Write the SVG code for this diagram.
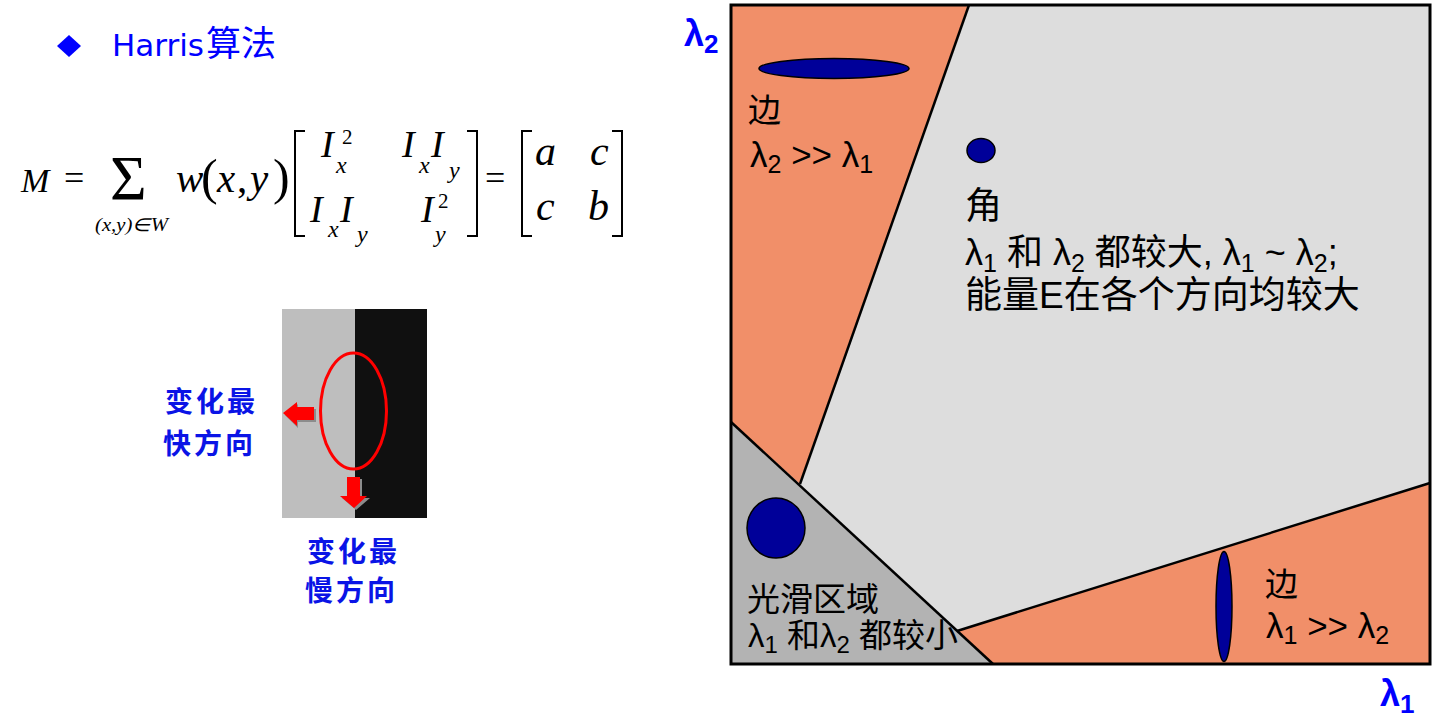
<svg xmlns="http://www.w3.org/2000/svg" width="1445" height="721" viewBox="0 0 1445 721">
<style>
.m{font-family:"Liberation Serif",serif;font-style:italic;fill:#000}
.mr{font-family:"Liberation Serif",serif;font-style:normal;fill:#000}
.lbl{font-family:"Liberation Sans","Noto Sans CJK SC",sans-serif;fill:#000}
.blue{font-family:"Noto Sans CJK SC",sans-serif;font-weight:bold;fill:#0a14e6;font-size:28px;letter-spacing:3px}
.axis{font-family:"Liberation Sans",sans-serif;font-weight:bold;fill:#0000ff}
.br{fill:none;stroke:#000;stroke-width:2}
.blob{fill:#000099;stroke:#000;stroke-width:1.5}
.edge{stroke:#000;stroke-width:2.5;fill:none}
.org{fill:#f18f69}
</style>

<g id="title">
  <polygon points="69,35 81,46 69,57 57,46" fill="#0000ff"/>
  <text x="112" y="56" font-family="DejaVu Sans, sans-serif" font-size="31" fill="#0000ff">Harris<tspan x="206" font-family="Noto Sans CJK SC, sans-serif" font-size="35">算法</tspan></text>
</g>

<g id="formula">
  <text class="m" x="21" y="192" font-size="34">M</text>
  <text class="mr" x="64" y="190" font-size="36">=</text>
  <text class="mr" x="110" y="200" font-size="63">Σ</text>
  <text class="m" x="95" y="231" font-size="18" textLength="73" lengthAdjust="spacingAndGlyphs">(x,y)∈W</text>
  <text class="m" x="176" y="192" font-size="41">w</text>
  <text class="mr" x="201" y="194" font-size="50">(</text>
  <text class="m" x="217" y="192" font-size="41">x</text>
  <text class="mr" x="237" y="192" font-size="41">,</text>
  <text class="m" x="250" y="192" font-size="41">y</text>
  <text class="mr" x="273" y="194" font-size="50">)</text>
  <polyline class="br" points="305,131 295,131 295,236 305,236"/>
  <polyline class="br" points="467,131 477,131 477,236 467,236"/>
  <text class="m" x="321" y="157" font-size="38">I</text>
  <text class="mr" x="342" y="144" font-size="21">2</text>
  <text class="m" x="336" y="173" font-size="24">x</text>
  <text class="m" x="402" y="157" font-size="38">I</text>
  <text class="m" x="419" y="173" font-size="24">x</text>
  <text class="m" x="431" y="157" font-size="38">I</text>
  <text class="m" x="449" y="178" font-size="24">y</text>
  <text class="m" x="310" y="222" font-size="38">I</text>
  <text class="m" x="328" y="237" font-size="24">x</text>
  <text class="m" x="340" y="222" font-size="38">I</text>
  <text class="m" x="357" y="242" font-size="24">y</text>
  <text class="m" x="421" y="222" font-size="38">I</text>
  <text class="mr" x="438" y="208" font-size="21">2</text>
  <text class="m" x="435" y="242" font-size="24">y</text>
  <text class="mr" x="485" y="190" font-size="36">=</text>
  <polyline class="br" points="532,131 522,131 522,236 532,236"/>
  <polyline class="br" points="612,131 622,131 622,236 612,236"/>
  <text class="m" x="535" y="165" font-size="42">a</text>
  <text class="m" x="590" y="165" font-size="42">c</text>
  <text class="m" x="536" y="220" font-size="42">c</text>
  <text class="m" x="588" y="220" font-size="42">b</text>
</g>

<g id="edge-image">
  <rect x="282" y="309" width="73" height="209" fill="#bebebe"/>
  <rect x="355" y="309" width="72" height="209" fill="#101010"/>
  <ellipse cx="353.5" cy="411" rx="33" ry="58" fill="none" stroke="#ff0000" stroke-width="3"/>
  <polygon points="285,415 298,404 298,409 316,409 316,422 298,422 298,428" fill="#8c8c8c"/>
  <polygon points="283,413 297,402 297,407 314,407 314,420 297,420 297,426" fill="#ff0000"/>
  <polygon points="349,479 362,479 362,498 370,498 356,510 342,498 349,498" fill="#8c8c8c"/>
  <polygon points="347,477 360,477 360,496 367,496 354,508 340,496 347,496" fill="#ff0000"/>
</g>

<g id="label-fast">
  <text class="blue" x="165" y="412">变化最</text>
  <text class="blue" x="163" y="454">快方向</text>
</g>
<g id="label-slow">
  <text class="blue" x="307" y="562">变化最</text>
  <text class="blue" x="305" y="601">慢方向</text>
</g>

<g id="chart">
  <rect x="731" y="5" width="699" height="659" fill="#dddddd"/>
  <polygon class="org" points="731,5 969,5 800,484 731,422"/>
  <polygon points="731,422 993,664 731,664" fill="#b3b3b3"/>
  <polygon class="org" points="957,631 1430,483 1430,664 993,664"/>
</g>

<g id="connectors">
  <line class="edge" x1="969" y1="5" x2="800" y2="484"/>
  <line class="edge" x1="731" y1="422" x2="993" y2="664"/>
  <line class="edge" x1="957" y1="631" x2="1430" y2="483"/>
  <rect x="731" y="5" width="699" height="659" fill="none" stroke="#000" stroke-width="3"/>
</g>

<g id="edge-top">
  <ellipse class="blob" cx="834" cy="68.5" rx="75" ry="10"/>
  <text class="lbl" x="748" y="122" font-size="33">边</text>
  <text class="lbl" x="750" y="167" font-size="35">λ<tspan font-size="25" dy="6">2</tspan><tspan dy="-6"> &gt;&gt; λ</tspan><tspan font-size="25" dy="6">1</tspan></text>
</g>

<g id="corner">
  <ellipse class="blob" cx="981" cy="150.5" rx="14" ry="12"/>
  <text class="lbl" x="965" y="219" font-size="37">角</text>
  <text class="lbl" x="965" y="265" font-size="36">λ<tspan font-size="25" dy="7">1</tspan><tspan dy="-7"> 和 λ</tspan><tspan font-size="25" dy="7">2</tspan><tspan dy="-7"> 都较大, λ</tspan><tspan font-size="25" dy="7">1</tspan><tspan dy="-7"> ~ λ</tspan><tspan font-size="25" dy="7">2</tspan><tspan dy="-7">;</tspan></text>
  <text class="lbl" x="965" y="308" font-size="37">能量E在各个方向均较大</text>
</g>

<g id="flat">
  <ellipse class="blob" cx="776" cy="528" rx="29" ry="30"/>
  <text class="lbl" x="747" y="611" font-size="33">光滑区域</text>
  <text class="lbl" x="748" y="647" font-size="33">λ<tspan font-size="24" dy="6">1</tspan><tspan dy="-6"> 和λ</tspan><tspan font-size="24" dy="6">2</tspan><tspan dy="-6"> 都较小</tspan></text>
</g>

<g id="edge-bottom">
  <ellipse class="blob" cx="1224" cy="606.5" rx="8" ry="55"/>
  <text class="lbl" x="1265" y="596" font-size="33">边</text>
  <text class="lbl" x="1266" y="638" font-size="35">λ<tspan font-size="25" dy="6">1</tspan><tspan dy="-6"> &gt;&gt; λ</tspan><tspan font-size="25" dy="6">2</tspan></text>
</g>

<g id="axes">
  <text class="axis" x="684" y="46" font-size="36">λ<tspan font-size="26" dy="7">2</tspan></text>
  <text class="axis" x="1380" y="706" font-size="36">λ<tspan font-size="26" dy="7">1</tspan></text>
</g>
</svg>
